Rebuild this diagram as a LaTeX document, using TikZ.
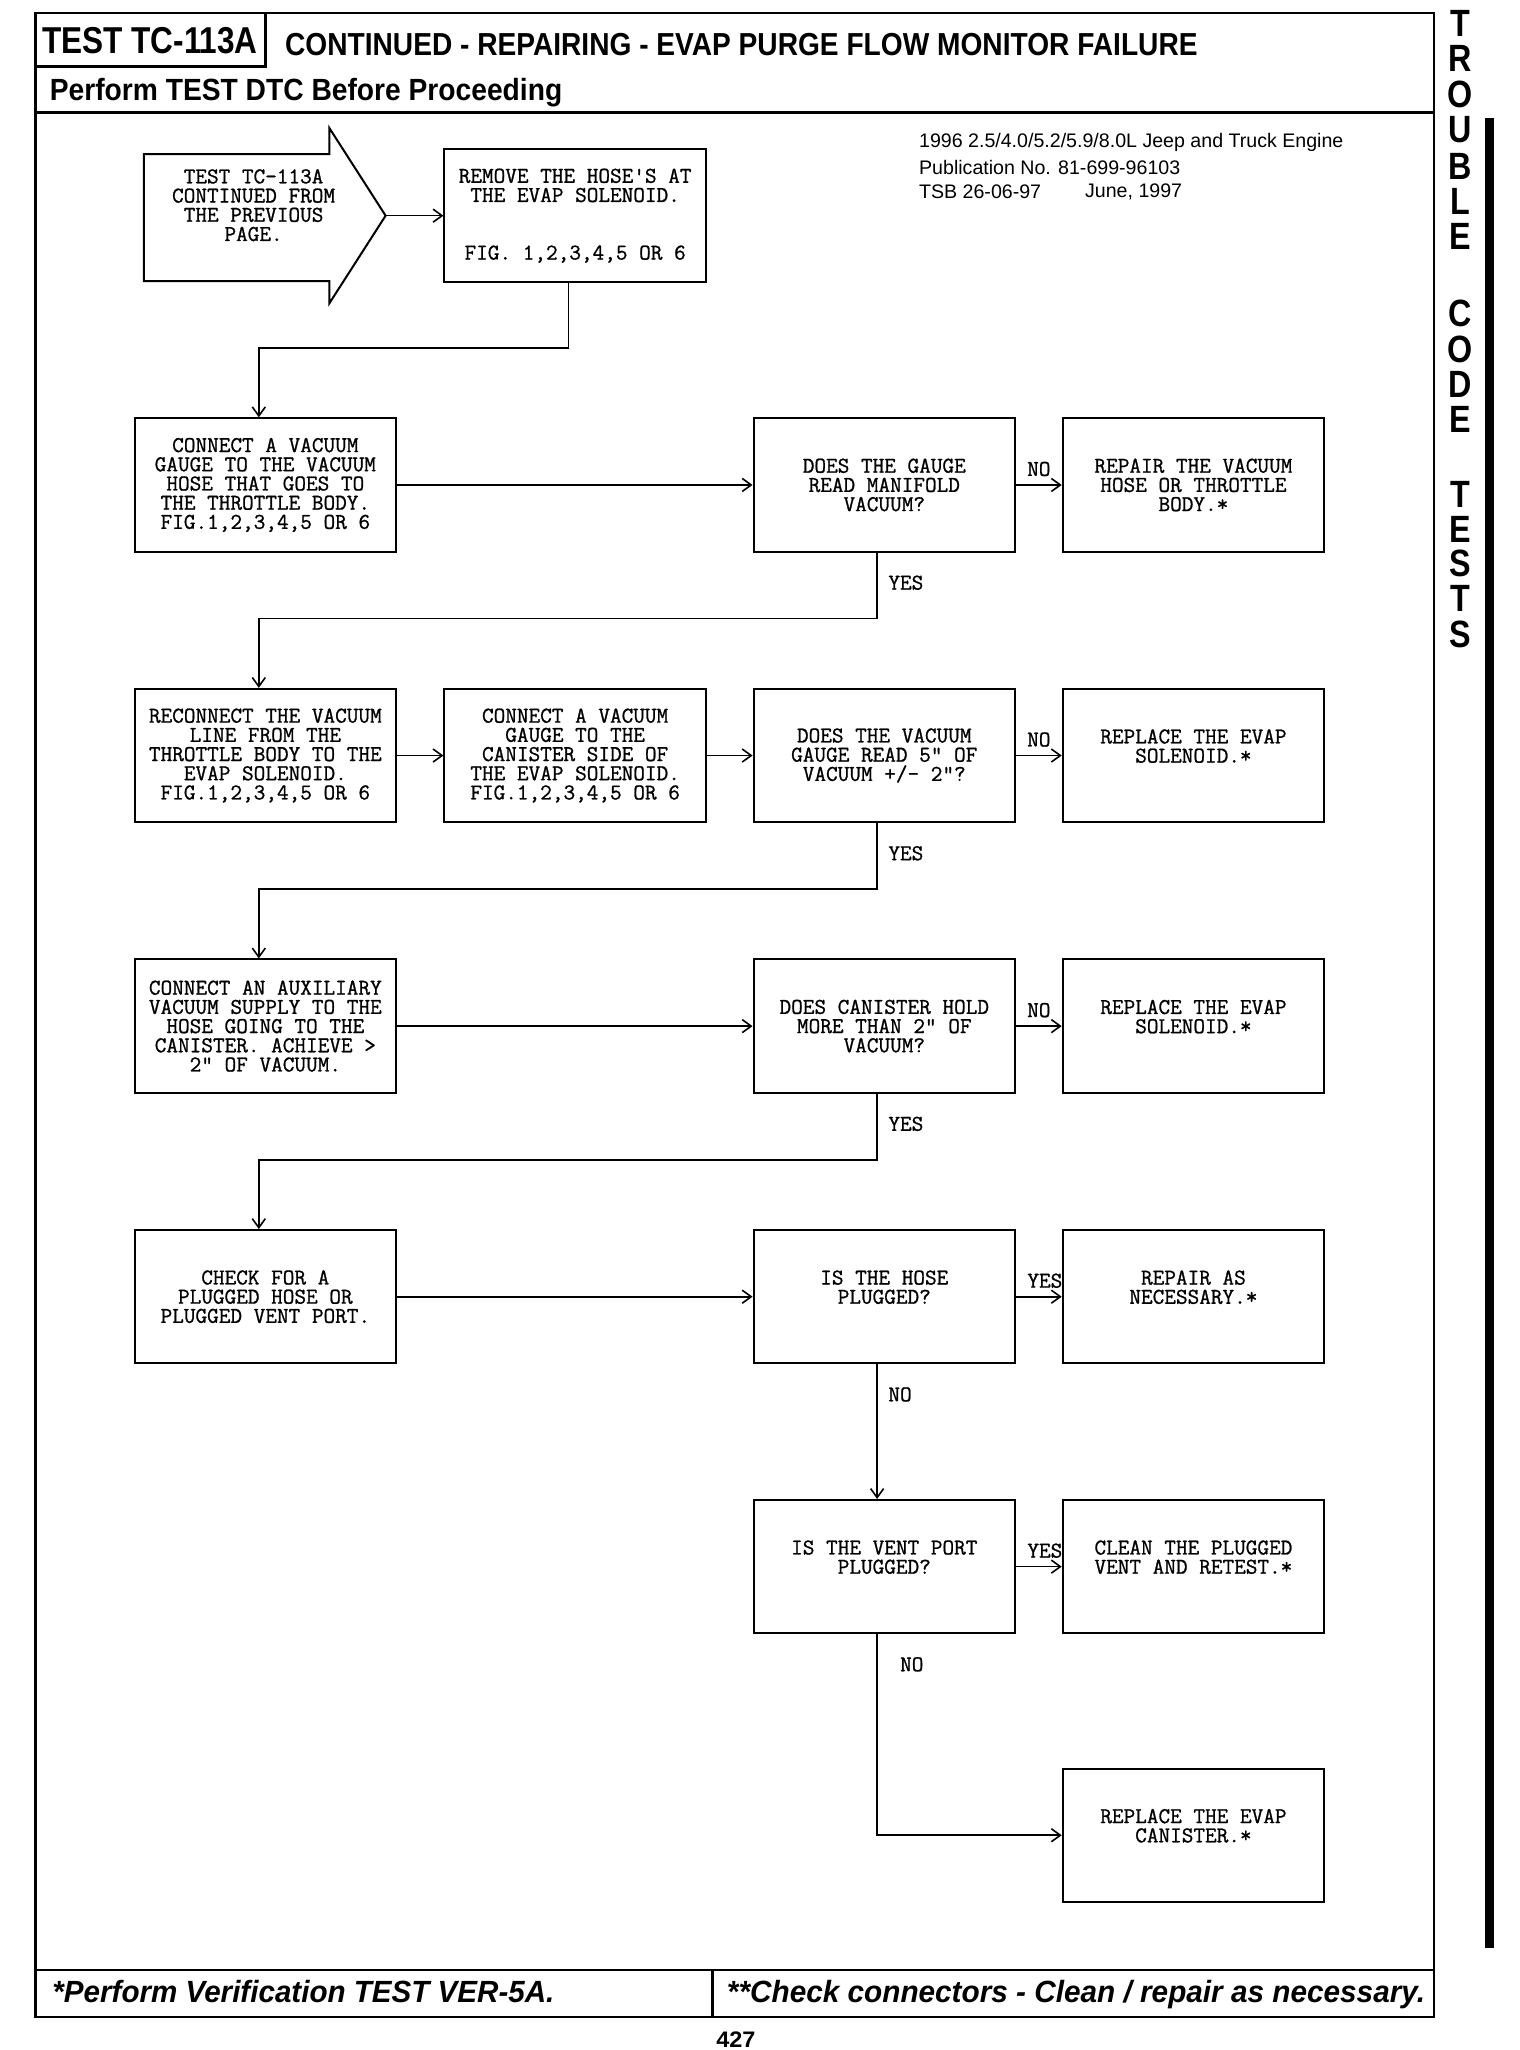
\documentclass[tikz,border=0pt]{standalone}
\usepackage{fontspec}
\usepackage{graphicx}
\usetikzlibrary{arrows.meta,calc}
\newfontfamily\hv{Liberation Sans}
\newfontfamily\lmmono{Latin Modern Mono}[FakeBold=1.0]
\newlength\px \setlength\px{1.30718pt}
\newcommand\monofont{\lmmono\bfseries\fontsize{22.6pt}{19.2pt}\selectfont}
\newcommand\fitto[3]{\resizebox{#1\px}{#2\px}{#3}}
\begin{document}
\begin{tikzpicture}[x=1.30718pt,y=-1.30718pt,
  frame/.style={line width=2.6pt},
  box/.style={draw, line width=2pt, minimum width=200\px, minimum height=102\px, inner sep=0pt, align=center, font=\monofont},
  lbl/.style={inner sep=0pt, font=\monofont},
  arr/.style={line width=1.6pt, -{Straight Barb[length=9pt,width=13pt]}},
  plain/.style={inner sep=0pt},
  tr/.style={inner sep=0pt, font=\hv\bfseries\fontsize{38pt}{38pt}\selectfont}
]
\useasboundingbox (0,0) rectangle (1162.8,1568.3);
% frame and header
\draw[frame] (27,10) rectangle (1097,1543);
\draw[frame] (27,10) rectangle (203,51);
\draw[frame] (27,86) -- (1097,86);
\draw[frame] (27,1507) -- (1097,1507);
\draw[frame] (545,1507) -- (545,1543);
\node[plain, anchor=west] (hd1) at (32,31) {\fitto{165}{20}{\hv\bfseries TEST TC-113A}};
\node[plain, anchor=west] (hd2) at (218,34) {\fitto{698}{17}{\hv\bfseries CONTINUED - REPAIRING - EVAP PURGE FLOW MONITOR FAILURE}};
\node[plain, anchor=base west] (hd3) at (38,77) {\fitto{392}{17}{\hv\bfseries Perform TEST DTC Before Proceeding}};
% info
\node[plain, anchor=west, font=\hv\fontsize{19.6pt}{19.6pt}\selectfont] (inf1) at (703,109) {1996 2.5/4.0/5.2/5.9/8.0L Jeep and Truck Engine};
\node[plain, anchor=west, font=\hv\fontsize{19.6pt}{19.6pt}\selectfont] (inf2) at (703,128) {Publication No. 81-699-96103};
\node[plain, anchor=west, font=\hv\fontsize{19.6pt}{19.6pt}\selectfont] (inf3) at (703,147) {TSB 26-06-97};
\node[plain, anchor=west, font=\hv\fontsize{19.6pt}{19.6pt}\selectfont] (inf4) at (830,147) {June, 1997};
% footer
\node[plain, anchor=base west] (ft1) at (40,1532) {\fitto{384}{17}{\hv\bfseries\itshape *Perform Verification TEST VER-5A.}};
\node[plain, anchor=base west] (ft2) at (556,1532) {\fitto{534}{17}{\hv\bfseries\itshape **Check connectors - Clean / repair as necessary.}};
\node[plain] (pg) at (563,1560) {\fitto{30}{12}{\hv\bfseries 427}};
% side tab
\fill (1136,90) rectangle (1143,1490);
\foreach \l/\yy [count=\i] in {T/18,R/45,O/72,U/99,B/127,L/154,E/181,C/240,O/267,D/294,E/321,T/378,E/405,S/431,T/458,S/485}
  \node[tr] (tr\i) at (1117,\yy) {\scalebox{0.85}[1]{\l}};
% start arrow
\draw[line width=2pt] (110,118) -- (252,118) -- (252,98) -- (295,165) -- (252,232) -- (252,215) -- (110,215) -- cycle;
\coordinate (tip) at (295,165);
\node[lbl, align=center] (start) at (194,157) {TEST TC-113A\\CONTINUED FROM\\THE PREVIOUS\\PAGE.};
% boxes
\node[box] (b2) at (440,165) {REMOVE THE HOSE'S AT\\THE EVAP SOLENOID.\\[29.4\px]FIG. 1,2,3,4,5 OR 6};
\node[box] (b3) at (203,371) {CONNECT A VACUUM\\GAUGE TO THE VACUUM\\HOSE THAT GOES TO\\THE THROTTLE BODY.\\FIG.1,2,3,4,5 OR 6};
\node[box] (q1) at (676.5,371) {DOES THE GAUGE\\READ MANIFOLD\\VACUUM?};
\node[box] (r1) at (913,371) {REPAIR THE VACUUM\\HOSE OR THROTTLE\\BODY.*};
\node[box] (b4) at (203,578) {RECONNECT THE VACUUM\\LINE FROM THE\\THROTTLE BODY TO THE\\EVAP SOLENOID.\\FIG.1,2,3,4,5 OR 6};
\node[box] (b5) at (440,578) {CONNECT A VACUUM\\GAUGE TO THE\\CANISTER SIDE OF\\THE EVAP SOLENOID.\\FIG.1,2,3,4,5 OR 6};
\node[box] (q2) at (676.5,578) {DOES THE VACUUM\\GAUGE READ 5" OF\\VACUUM +/- 2"?};
\node[box] (r2) at (913,578) {REPLACE THE EVAP\\SOLENOID.*\\\mbox{}};
\node[box] (b6) at (203,785) {CONNECT AN AUXILIARY\\VACUUM SUPPLY TO THE\\HOSE GOING TO THE\\CANISTER. ACHIEVE >\\2" OF VACUUM.};
\node[box] (q3) at (676.5,785) {DOES CANISTER HOLD\\MORE THAN 2" OF\\VACUUM?};
\node[box] (r3) at (913,785) {REPLACE THE EVAP\\SOLENOID.*\\\mbox{}};
\node[box] (b7) at (203,992) {CHECK FOR A\\PLUGGED HOSE OR\\PLUGGED VENT PORT.};
\node[box] (q4) at (676.5,992) {IS THE HOSE\\PLUGGED?\\\mbox{}};
\node[box] (r4) at (913,992) {REPAIR AS\\NECESSARY.*\\\mbox{}};
\node[box] (q5) at (676.5,1198.5) {IS THE VENT PORT\\PLUGGED?\\\mbox{}};
\node[box] (r5) at (913,1198.5) {CLEAN THE PLUGGED\\VENT AND RETEST.*\\\mbox{}};
\node[box] (r6) at (913,1404) {REPLACE THE EVAP\\CANISTER.*\\\mbox{}};
% connectors
\draw[arr] (tip) -- (b2.west);
\draw[arr] ($(b2.south)+(-5,0)$) |- ($(b3.north)+(-5,-53)$) -- ($(b3.north)+(-5,0)$);
\draw[arr] (b3.east) -- (q1.west);
\draw[arr] (q1.east) -- node[lbl, midway, anchor=south, yshift=8pt] {NO} (r1.west);
\draw[arr] ($(q1.south)+(-5.5,0)$) |- ($(b4.north)+(-5,-53)$) -- ($(b4.north)+(-5,0)$);
\node[lbl, anchor=west] (y1) at ($(q1.south)+(3,23)$) {YES};
\draw[arr] (b4.east) -- (b5.west);
\draw[arr] (b5.east) -- (q2.west);
\draw[arr] (q2.east) -- node[lbl, midway, anchor=south, yshift=8pt] {NO} (r2.west);
\draw[arr] ($(q2.south)+(-5.5,0)$) |- ($(b6.north)+(-5,-53)$) -- ($(b6.north)+(-5,0)$);
\node[lbl, anchor=west] (y2) at ($(q2.south)+(3,23)$) {YES};
\draw[arr] (b6.east) -- (q3.west);
\draw[arr] (q3.east) -- node[lbl, midway, anchor=south, yshift=8pt] {NO} (r3.west);
\draw[arr] ($(q3.south)+(-5.5,0)$) |- ($(b7.north)+(-5,-53)$) -- ($(b7.north)+(-5,0)$);
\node[lbl, anchor=west] (y3) at ($(q3.south)+(3,23)$) {YES};
\draw[arr] (b7.east) -- (q4.west);
\draw[arr] (q4.east) -- node[lbl, midway, anchor=south, yshift=8pt, xshift=6pt] {YES} (r4.west);
\draw[arr] ($(q4.south)+(-5.5,0)$) -- ($(q5.north)+(-5.5,0)$);
\node[lbl, anchor=west] (n4) at ($(q4.south)+(3,23)$) {NO};
\draw[arr] (q5.east) -- node[lbl, midway, anchor=south, yshift=8pt, xshift=6pt] {YES} (r5.west);
\draw[arr] ($(q5.south)+(-5.5,0)$) |- (r6.west);
\node[lbl, anchor=west] (n5) at ($(q5.south)+(12,23)$) {NO};
\end{tikzpicture}
\end{document}
